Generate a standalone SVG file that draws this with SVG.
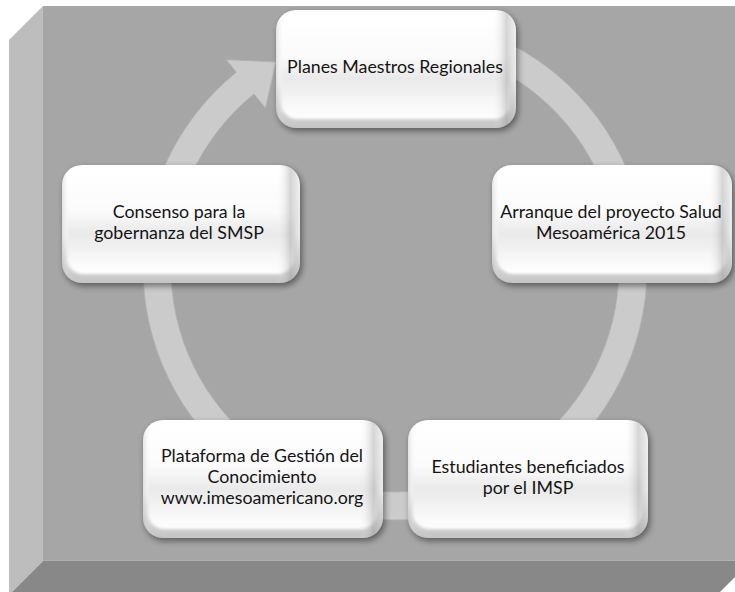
<svg xmlns="http://www.w3.org/2000/svg" width="735" height="592" viewBox="0 0 735 592">
<defs>
  <filter id="blurS" x="-20%" y="-20%" width="140%" height="140%"><feGaussianBlur stdDeviation="3"/></filter>
  <filter id="blurF" x="-10%" y="-10%" width="120%" height="120%"><feGaussianBlur stdDeviation="1.6"/></filter>
  <linearGradient id="gV" x1="0" y1="0" x2="0" y2="1">
    <stop offset="0" stop-color="#ffffff"/>
    <stop offset="0.6" stop-color="#f4f4f4"/>
    <stop offset="1" stop-color="#c4c4c4"/>
  </linearGradient>
  <linearGradient id="gH" x1="0" y1="0" x2="1" y2="0">
    <stop offset="0" stop-color="#9a9a9a" stop-opacity="0.25"/>
    <stop offset="0.03" stop-color="#ffffff" stop-opacity="0"/>
    <stop offset="0.9" stop-color="#ffffff" stop-opacity="0"/>
    <stop offset="0.96" stop-color="#8a8a8a" stop-opacity="0.35"/>
    <stop offset="1" stop-color="#8a8a8a" stop-opacity="0.1"/>
  </linearGradient>
  <linearGradient id="gFace" x1="0" y1="0" x2="0" y2="1">
    <stop offset="0" stop-color="#ffffff"/>
    <stop offset="0.4" stop-color="#fbfbfb"/>
    <stop offset="0.62" stop-color="#e9e9e9"/>
    <stop offset="0.85" stop-color="#f7f7f7"/>
    <stop offset="1" stop-color="#ffffff"/>
  </linearGradient>
  <style>
    .shadow { fill:#000; opacity:0.45; filter:url(#blurS); }
    .rim { fill:url(#gV); }
    .edge { fill:url(#gH); }
    .face { fill:url(#gFace); filter:url(#blurF); }
    .lbl { font-family: Lato, "Open Sans", "Liberation Sans", sans-serif; font-size:17.8px; fill:#141414; text-anchor:middle; }
    .ring { fill:#cbcbcb; stroke:#b3b3b3; stroke-width:0.8; }
  </style>
</defs>

<!-- frame -->
<g id="frame">
  <rect x="43" y="6" width="692" height="555" fill="#a6a6a6"/>
  <polygon points="9,40 43,6 43,561 12,592 9,592" fill="#bdbdbd"/>
  <polygon points="43,561 735,561 735,577 720,592 12,592" fill="#888888"/>
  <line x1="43" y1="560.5" x2="735" y2="560.5" stroke="#b0b0b0" stroke-width="1"/>
</g>

<!-- connectors -->
<g id="connectors">
  <path class="ring" d="M395,16 A252,252 0 1 1 236.4,72.2 L226.3,59.7 L276,61.9 L265.4,107.9 L254,93.9 A224,224 0 1 0 395,44 Z"/>
</g>

<g id="node-planes">
  <rect class="shadow" x="278" y="13" width="240" height="118" rx="20"/>
  <rect class="rim" x="276" y="10" width="240" height="118" rx="20"/>
  <rect class="face" x="281" y="14" width="229" height="105" rx="16"/>
  <rect class="edge" x="276" y="10" width="240" height="118" rx="20"/>
  <text class="lbl" x="395" y="73">Planes Maestros Regionales</text>
</g>

<g id="node-arranque">
  <rect class="shadow" x="494" y="168" width="240" height="118" rx="20"/>
  <rect class="rim" x="492" y="165" width="240" height="118" rx="20"/>
  <rect class="face" x="497" y="169" width="229" height="105" rx="16"/>
  <rect class="edge" x="492" y="165" width="240" height="118" rx="20"/>
  <text class="lbl" x="611" y="218">Arranque del proyecto Salud</text>
  <text class="lbl" x="611" y="239">Mesoamérica 2015</text>
</g>

<g id="node-estudiantes">
  <rect class="shadow" x="410" y="423" width="240" height="118" rx="20"/>
  <rect class="rim" x="408" y="420" width="240" height="118" rx="20"/>
  <rect class="face" x="413" y="424" width="229" height="105" rx="16"/>
  <rect class="edge" x="408" y="420" width="240" height="118" rx="20"/>
  <text class="lbl" x="528" y="473">Estudiantes beneficiados</text>
  <text class="lbl" x="528" y="494">por el IMSP</text>
</g>

<g id="node-plataforma">
  <rect class="shadow" x="145" y="423" width="240" height="118" rx="20"/>
  <rect class="rim" x="143" y="420" width="240" height="118" rx="20"/>
  <rect class="face" x="148" y="424" width="229" height="105" rx="16"/>
  <rect class="edge" x="143" y="420" width="240" height="118" rx="20"/>
  <text class="lbl" x="262" y="462">Plataforma de Gestión del</text>
  <text class="lbl" x="262" y="483">Conocimiento</text>
  <text class="lbl" x="262" y="504">www.imesoamericano.org</text>
</g>

<g id="node-consenso">
  <rect class="shadow" x="64" y="168" width="238" height="118" rx="20"/>
  <rect class="rim" x="62" y="165" width="238" height="118" rx="20"/>
  <rect class="face" x="67" y="169" width="227" height="105" rx="16"/>
  <rect class="edge" x="62" y="165" width="238" height="118" rx="20"/>
  <text class="lbl" x="179" y="218">Consenso para la</text>
  <text class="lbl" x="179" y="239">gobernanza del SMSP</text>
</g>
</svg>
